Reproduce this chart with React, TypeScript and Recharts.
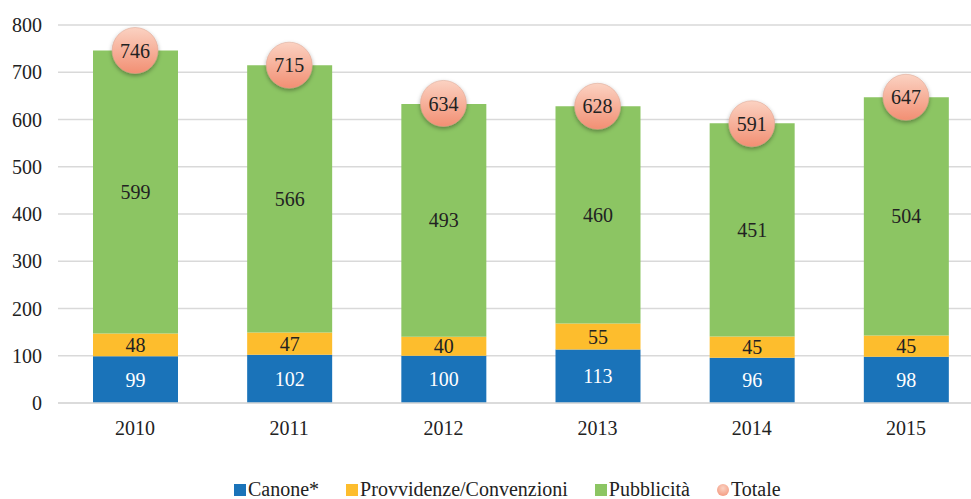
import React from 'react';
import {
  ComposedChart,
  Bar,
  Line,
  XAxis,
  YAxis,
  CartesianGrid,
  LabelList,
} from 'recharts';

// dati (milioni di euro)
const years = ['2010', '2011', '2012', '2013', '2014', '2015'];
const canone = [99, 102, 100, 113, 96, 98];
const provvidenze = [48, 47, 40, 55, 45, 45];
const pubblicita = [599, 566, 493, 460, 451, 504];
const totale = [746, 715, 634, 628, 591, 647];
const yTicks = [0, 100, 200, 300, 400, 500, 600, 700, 800];

const COLORS = {
  canone: '#1a73b9',
  provvidenze: '#fdbd2d',
  pubblicita: '#8cc563',
  totale: '#f6a98e',
};

const FONT = '"Liberation Serif", "Times New Roman", Times, serif';

const data = years.map((year, i) => ({
  year,
  canone: canone[i],
  provvidenze: provvidenze[i],
  pubblicita: pubblicita[i],
  totale: totale[i],
}));

const legendItems = [
  { label: 'Canone*', color: COLORS.canone, round: false },
  { label: 'Provvidenze/Convenzioni', color: COLORS.provvidenze, round: false },
  { label: 'Pubblicità', color: COLORS.pubblicita, round: false },
  { label: 'Totale', color: COLORS.totale, round: true },
];

// bollino del totale
const TotalDot = (props: any) => {
  const { cx, cy } = props;
  if (cx == null || cy == null) return null;
  return (
    <circle
      key={`dot-${cx}`}
      cx={cx}
      cy={cy}
      r={23}
      fill="url(#totGradient)"
      stroke="#d9a08c"
      strokeWidth={0.5}
      filter="url(#totShadow)"
    />
  );
};

// etichetta anno sotto l'asse
const YearTick = (props: any) => {
  const { x, y, payload } = props;
  return (
    <text x={x} y={y + 30} textAnchor="middle" fill="#222" fontSize={20} fontFamily={FONT}>
      {payload.value}
    </text>
  );
};

export default function App() {
  return (
    <div style={{ position: 'absolute', left: 0, top: 0, width: 971, height: 499, overflow: 'hidden', background: '#fff', fontFamily: FONT }}>
      <ComposedChart
        width={983}
        height={499}
        data={data}
        margin={{ top: 25, right: 0, bottom: 66, left: 0 }}
        style={{ fontFamily: FONT }}
      >
        <defs>
          <linearGradient id="totGradient" x1="0" y1="0" x2="0" y2="1">
            <stop offset="0%" stopColor="#fbd2c2" />
            <stop offset="100%" stopColor="#f28f73" />
          </linearGradient>
          <filter id="totShadow" x="-50%" y="-50%" width="200%" height="200%">
            <feDropShadow dx="0" dy="2" stdDeviation="2" floodColor="#000" floodOpacity={0.35} />
          </filter>
        </defs>
        <CartesianGrid vertical={false} stroke="#d9d9d9" strokeWidth={1.5} />
        <XAxis
          dataKey="year"
          axisLine={{ stroke: '#d9d9d9', strokeWidth: 1.5 }}
          tickLine={false}
          tickSize={0}
          height={30}
          tick={<YearTick />}
        />
        <YAxis
          width={58}
          domain={[0, 800]}
          ticks={yTicks}
          axisLine={false}
          tickLine={false}
          tickSize={0}
          tickMargin={16}
          tick={{ fill: '#222', fontSize: 20, fontFamily: FONT }}
        />
        <Bar dataKey="canone" stackId="a" fill={COLORS.canone} barSize={85} isAnimationActive={false}>
          <LabelList dataKey="canone" position="center" fill="#fff" fontSize={20} fontFamily={FONT} />
        </Bar>
        <Bar dataKey="provvidenze" stackId="a" fill={COLORS.provvidenze} barSize={85} isAnimationActive={false}>
          <LabelList dataKey="provvidenze" position="center" fill="#222" fontSize={20} fontFamily={FONT} />
        </Bar>
        <Bar dataKey="pubblicita" stackId="a" fill={COLORS.pubblicita} barSize={85} isAnimationActive={false}>
          <LabelList dataKey="pubblicita" position="center" fill="#222" fontSize={20} fontFamily={FONT} />
        </Bar>
        <Line
          dataKey="totale"
          stroke="none"
          dot={<TotalDot />}
          activeDot={false}
          isAnimationActive={false}
        >
          <LabelList dataKey="totale" position="center" fill="#222" fontSize={20} fontFamily={FONT} />
        </Line>
      </ComposedChart>
      <div
        style={{
          position: 'absolute',
          left: 234,
          top: 478,
          display: 'flex',
          alignItems: 'center',
          fontFamily: FONT,
          fontSize: 20,
          color: '#222',
          whiteSpace: 'nowrap',
        }}
      >
        {legendItems.map((item) => (
          <div key={item.label} style={{ display: 'flex', alignItems: 'center', marginRight: 27 }}>
            <span
              style={{
                display: 'inline-block',
                width: 12,
                height: 12,
                marginRight: 2,
                background: item.round ? 'radial-gradient(circle at 50% 35%, #fbd2c2, #f28f73)' : item.color,
                borderRadius: item.round ? '50%' : 0,
              }}
            />
            <span>{item.label}</span>
          </div>
        ))}
      </div>
    </div>
  );
}
